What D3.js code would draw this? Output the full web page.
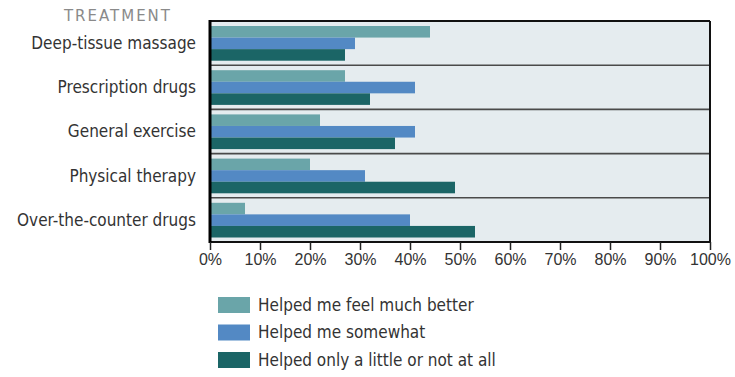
<!DOCTYPE html>
<html><head><meta charset="utf-8">
<script src="https://cdn.jsdelivr.net/npm/d3@7"></script>
<style>body{margin:0;background:#fff}</style>
</head><body><svg id="c" width="735" height="377"></svg>
<script>
const categories = ["Deep-tissue massage","Prescription drugs","General exercise","Physical therapy","Over-the-counter drugs"];
const seriesNames = ["Helped me feel much better","Helped me somewhat","Helped only a little or not at all"];
const muchBetter = [44,27,22,20,7];
const somewhat = [29,41,41,31,40];
const littleOrNot = [27,32,37,49,53];
const tickValues = [0,10,20,30,40,50,60,70,80,90,100];
const colors = ["#6aa5a9","#5389c4","#1b6566"];
const seriesValues = [muchBetter, somewhat, littleOrNot];

const svg = d3.select("#c");
const L = 210, R = 710, T = 21, B = 242;
const x = d3.scaleLinear().domain([0,100]).range([L,R]);
const y = d3.scaleBand().domain(categories).range([T,B]);
const ySub = d3.scaleBand().domain(d3.range(3)).range([5, y.bandwidth()-4.5]);
const condensed = "'Liberation Sans Narrow','DejaVu Sans Condensed',sans-serif";

svg.append("rect").attr("x",L).attr("y",T).attr("width",R-L).attr("height",B-T).attr("fill","#e5ecef");

const g = svg.append("g");
categories.forEach((c,i)=>{
  seriesValues.forEach((vals,s)=>{
    g.append("rect").attr("x",x(0)).attr("y",y(c)+ySub(s)).attr("width",x(vals[i])-x(0))
      .attr("height",ySub.bandwidth()).attr("fill",colors[s]);
  });
});
// separators
categories.slice(1).forEach(c=>{
  svg.append("line").attr("x1",L).attr("x2",R).attr("y1",y(c)).attr("y2",y(c))
    .attr("stroke","#4a4a4a").attr("stroke-width",1.6);
});
// frame
svg.append("line").attr("x1",L).attr("x2",R).attr("y1",T).attr("y2",T).attr("stroke","#111").attr("stroke-width",2);
svg.append("line").attr("x1",R).attr("x2",R).attr("y1",T).attr("y2",B).attr("stroke","#111").attr("stroke-width",2);
svg.append("line").attr("x1",L).attr("x2",R).attr("y1",B).attr("y2",B).attr("stroke","#111").attr("stroke-width",2);
svg.append("line").attr("x1",L).attr("x2",L).attr("y1",T-1).attr("y2",B+1).attr("stroke","#000").attr("stroke-width",3);

// x axis
const ax = svg.append("g").attr("transform",`translate(0,${B})`)
  .call(d3.axisBottom(x).tickValues(tickValues).tickFormat(d=>d+"%").tickSize(8).tickPadding(4));
ax.select(".domain").remove();
ax.selectAll(".tick line").attr("stroke","#222").attr("stroke-width",1.5);
ax.selectAll(".tick text").attr("fill","#333").style("font-family","'Liberation Sans',Arial,sans-serif").style("font-size","16px");

// category labels
categories.forEach(c=>{
  svg.append("text").attr("x",196).attr("y",y(c)+y.bandwidth()/2).attr("dy","0.35em")
    .attr("text-anchor","end").attr("fill","#333").style("font-family",condensed).style("font-size","17px").text(c);
});
svg.append("text").attr("x",172).attr("y",21).attr("text-anchor","end").attr("fill","#8a8a8a")
  .style("font-family","'DejaVu Sans',sans-serif").style("font-size","15px").style("letter-spacing","2px").text("TREATMENT");

// legend
const lg = svg.append("g");
seriesNames.forEach((n,s)=>{
  const yy = 297 + s*27.5;
  lg.append("rect").attr("x",218).attr("y",yy).attr("width",32).attr("height",16).attr("fill",colors[s]);
  lg.append("text").attr("x",258).attr("y",yy+8).attr("dy","0.35em").attr("fill","#333")
    .style("font-family",condensed).style("font-size","17px").text(n);
});
</script></body></html>
